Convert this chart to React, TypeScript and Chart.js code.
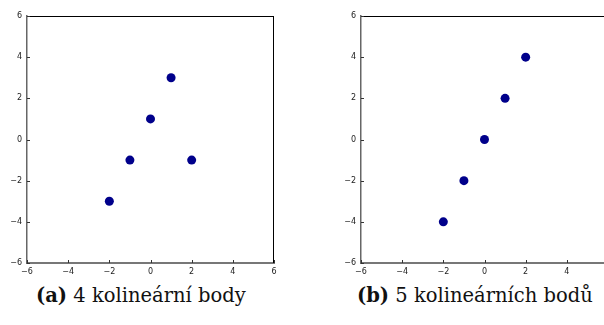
import React, { useEffect, useRef } from "react";
import { Chart, registerables } from "chart.js";

Chart.register(...registerables);

const xValues = [-2, -1, 0, 1, 2];
const yValuesA = [-3, -1, 1, 3, -1];
const yValuesB = [-4, -2, 0, 2, 4];
const axisMin = -6;
const axisMax = 6;
const axisStep = 2;

const captionLabels = ["(a)", "(b)"];
const captionTexts = [" 4 kolineární body", " 5 kolineárních bodů"];

const POINT_COLOR = "#00008b";

const framePlugin = {
  id: "frameTicks",
  afterDraw(chart: any) {
    const { ctx, chartArea, scales } = chart;
    const { left, right, top, bottom } = chartArea;
    ctx.save();
    ctx.strokeStyle = "#000";
    ctx.lineWidth = 1;
    ctx.beginPath();
    ctx.moveTo(left, top + 0.5);
    ctx.lineTo(right, top + 0.5);
    ctx.moveTo(right - 0.5, top);
    ctx.lineTo(right - 0.5, bottom);
    ctx.stroke();
    ctx.strokeStyle = "#333";
    ctx.beginPath();
    scales.x.ticks.forEach((t: any) => {
      const px = Math.round(scales.x.getPixelForValue(t.value)) + 0.5;
      ctx.moveTo(px, bottom);
      ctx.lineTo(px, bottom - 3);
    });
    scales.y.ticks.forEach((t: any) => {
      const py = Math.round(scales.y.getPixelForValue(t.value)) + 0.5;
      ctx.moveTo(left, py);
      ctx.lineTo(left + 3, py);
    });
    ctx.stroke();
    ctx.restore();
  },
};

const fmt = (v: any) => String(v).replace("-", "\u2212");

function ScatterPanel({ ys, left }: { ys: number[]; left: number }) {
  const ref = useRef<HTMLCanvasElement>(null);
  useEffect(() => {
    const canvas = ref.current!;
    const chart = new Chart(canvas, {
      type: "scatter",
      data: {
        datasets: [
          {
            data: xValues.map((x, i) => ({ x, y: ys[i] })),
            backgroundColor: POINT_COLOR,
            borderColor: POINT_COLOR,
            pointRadius: 4.5,
            pointHoverRadius: 4.5,
            borderWidth: 0,
          },
        ],
      },
      options: {
        responsive: false,
        animation: false,
        devicePixelRatio: 1,
        layout: { padding: { top: 16, right: 26, left: 0, bottom: 0 } },
        plugins: { legend: { display: false }, tooltip: { enabled: false } },
        scales: {
          x: {
            type: "linear",
            min: axisMin,
            max: axisMax,
            ticks: {
              stepSize: axisStep,
              padding: 4,
              color: "#222",
              font: { family: "DejaVu Sans", size: 8 },
              callback: (v: any) => fmt(v),
              maxRotation: 0,
            },
            grid: { display: false, drawTicks: false },
            border: { display: true, color: "#777", width: 2 },
            afterFit: (s: any) => {
              s.height = 17;
            },
          },
          y: {
            type: "linear",
            min: axisMin,
            max: axisMax,
            ticks: {
              stepSize: axisStep,
              padding: 5,
              color: "#222",
              font: { family: "DejaVu Sans", size: 8 },
              callback: (v: any) => fmt(v),
            },
            grid: { display: false, drawTicks: false },
            border: { display: true, color: "#666", width: 1.5 },
            afterFit: (s: any) => {
              s.width = 27;
            },
          },
        },
      },
      plugins: [framePlugin],
    } as any);
    return () => chart.destroy();
  }, [ys]);
  return (
    <canvas
      ref={ref}
      width={300}
      height={280}
      style={{ position: "absolute", left, top: 0, width: 300, height: 280, display: "block" }}
    />
  );
}

const captionStyle: React.CSSProperties = {
  position: "absolute",
  top: 283,
  fontFamily: "'DejaVu Serif', serif",
  fontSize: 19.5,
  lineHeight: "26px",
  whiteSpace: "nowrap",
  color: "#111",
};

export default function App() {
  return (
    <div
      style={{
        position: "absolute",
        left: 0,
        top: 0,
        width: 604,
        height: 325,
        overflow: "hidden",
        background: "#fff",
      }}
    >
      <ScatterPanel ys={yValuesA} left={0} />
      <ScatterPanel ys={yValuesB} left={334} />
      <div style={{ ...captionStyle, left: 36 }}>
        <b>{captionLabels[0]}</b>
        {captionTexts[0]}
      </div>
      <div style={{ ...captionStyle, left: 357 }}>
        <b>{captionLabels[1]}</b>
        {captionTexts[1]}
      </div>
    </div>
  );
}
